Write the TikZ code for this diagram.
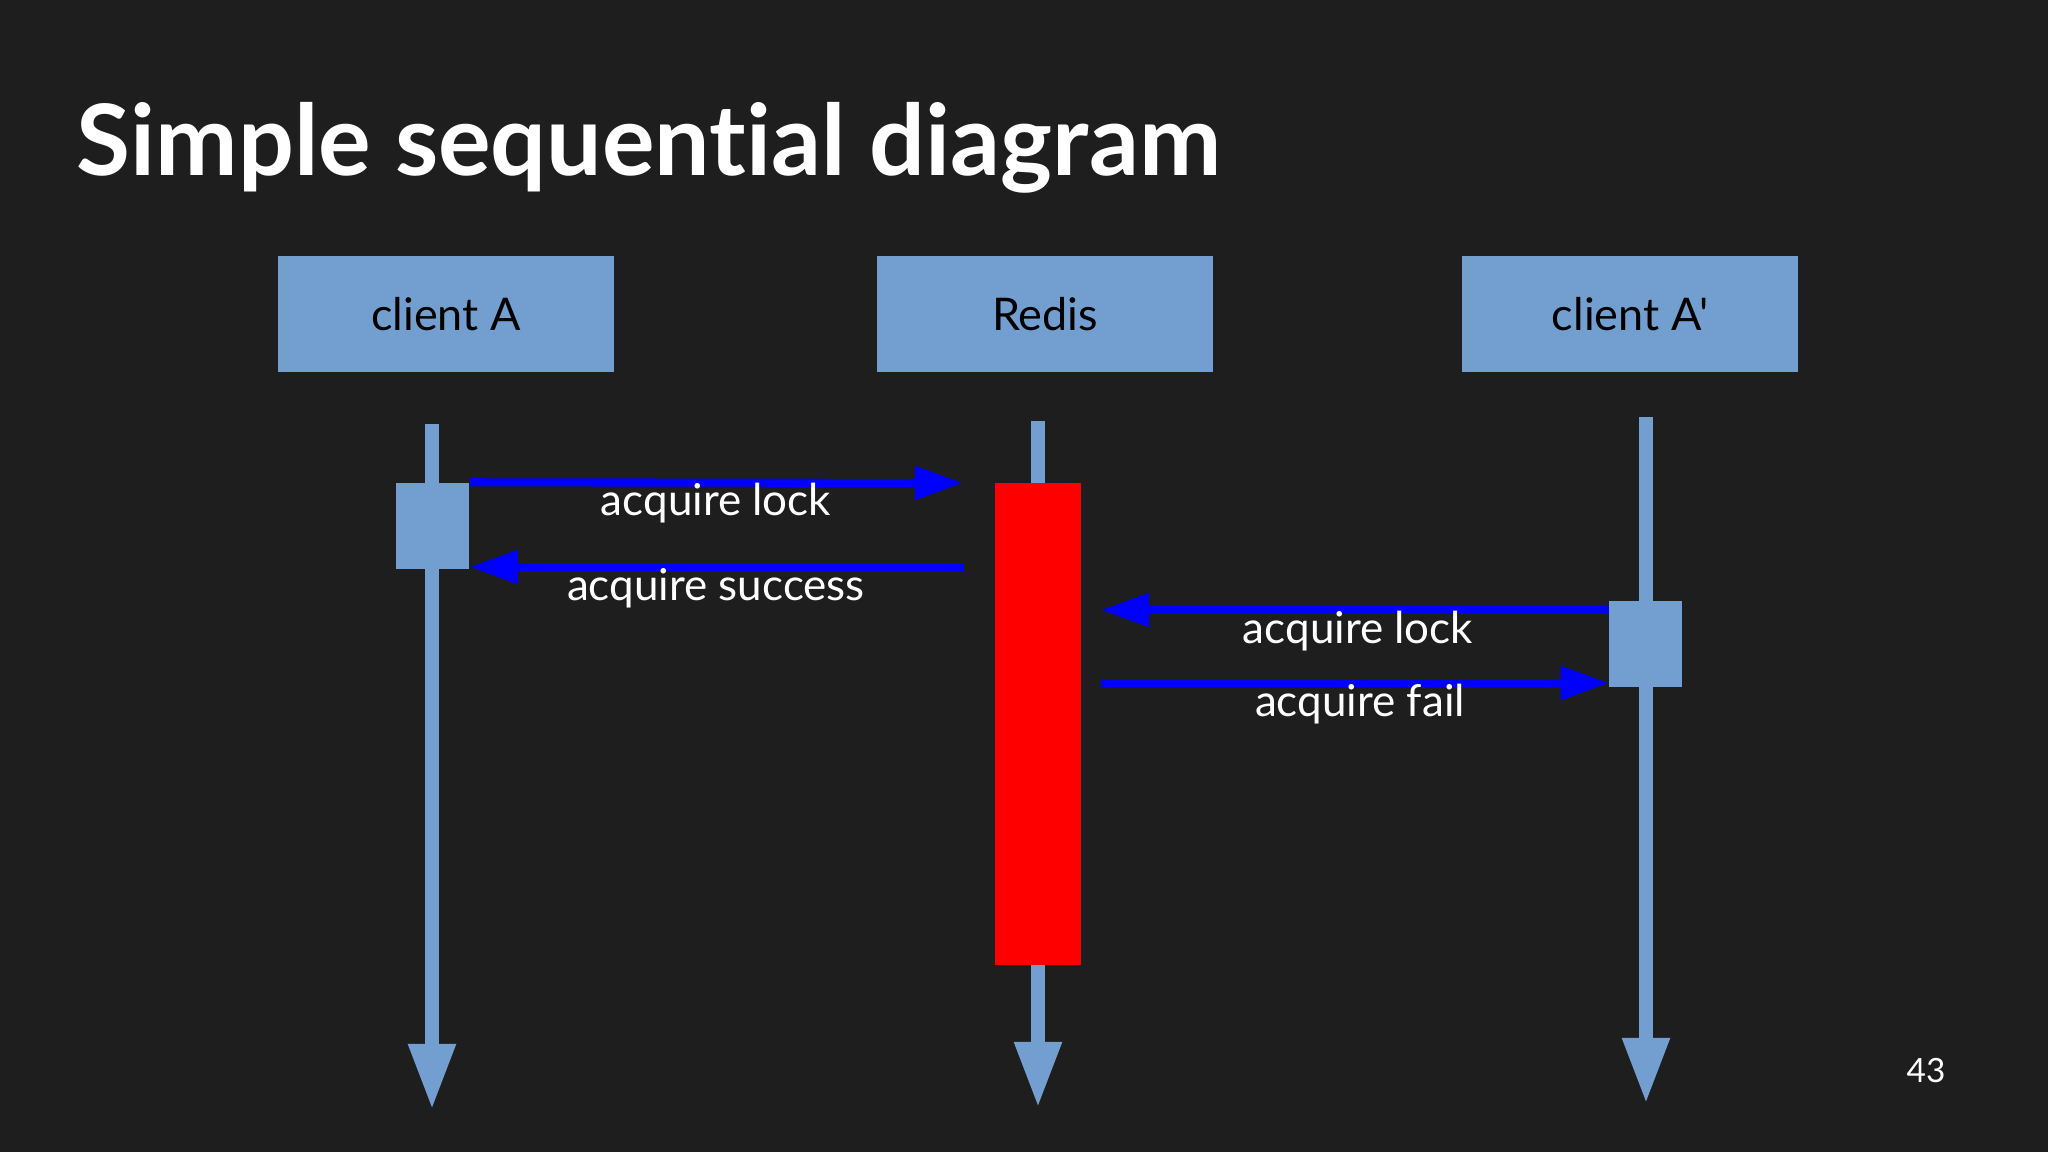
\documentclass[tikz,border=0pt]{standalone}
\usepackage{fontspec}
\newfontfamily\lato{Lato}[Ligatures=NoCommon]
\usetikzlibrary{arrows.meta}
\definecolor{bg}{RGB}{30,30,31}
\definecolor{lifeblue}{RGB}{114,159,207}
\definecolor{msgblue}{RGB}{0,0,255}
\definecolor{actred}{RGB}{255,0,0}
\begin{document}
\begin{tikzpicture}[x=0.01cm,y=-0.01cm,
  actor/.style={fill=lifeblue,draw=none,minimum width=3.36cm,minimum height=1.16cm,inner sep=0pt,font=\lato\fontsize{12.8}{15}\selectfont,text=black},
  life/.style={draw=lifeblue,line width=4pt,-{Triangle[length=0.66cm,width=0.44cm]}},
  actbox/.style={fill=lifeblue,draw=none,inner sep=0pt,minimum width=0.73cm,minimum height=0.86cm},
  msg/.style={draw=msgblue,line width=2.3pt,-{Triangle[length=0.48cm,width=0.32cm]}},
  lbl/.style={text=white,font=\lato\fontsize{12.5}{15}\selectfont,inner sep=0pt}]
\fill[bg] (0,0) rectangle (2048,1152);
\useasboundingbox (0,0) rectangle (2048,1152);
% title
\node[anchor=base west,text=white,inner sep=0pt,font=\lato\fontsize{28}{32}\bfseries\selectfont] (title) at (76,176) {Simple sequential diagram};
% actors
\node[actor] (clientA) at (446,314) {client A};
\node[actor] (redis) at (1045,314) {Redis};
\node[actor] (clientB) at (1630,314) {client A'};
% lifelines
\coordinate (aTop) at (432,424);
\coordinate (aBot) at (432,1110);
\coordinate (rTop) at (1038,421);
\coordinate (rBot) at (1038,1108);
\coordinate (bTop) at (1646,417);
\coordinate (bBot) at (1646,1104);
\draw[life] (aTop) -- (aBot);
\draw[life] (rTop) -- (rBot);
\draw[life] (bTop) -- (bBot);
% activations
\node[actbox] (actA) at (432.5,526) {};
\node[fill=actred,draw=none,inner sep=0pt,minimum width=0.86cm,minimum height=4.82cm] (actR) at (1038,724) {};
\node[actbox] (actB) at (1645.5,644) {};
% messages
\coordinate (m1end) at (963,483);
\coordinate (m2start) at (964,567);
\coordinate (m3start) at (1609,610);
\coordinate (m3end) at (1101,610);
\coordinate (m4start) at (1101,683);
\coordinate (m4end) at (1609,683);
\draw[msg] (actA.north east) -- (m1end);
\draw[msg] (m2start) -- (actA.east |- m2start);
\draw[msg] (m3start) -- (m3end);
\draw[msg] (m4start) -- (m4end);
% labels
\node[lbl] (l1) at (716,503) {acquire lock};
\node[lbl] (l2) at (716,588) {acquire success};
\node[lbl] (l3) at (1358,631) {acquire lock};
\node[lbl] (l4) at (1360,704) {acquire fail};
% page number
\node[text=white,font=\lato\fontsize{9.5}{11}\selectfont,inner sep=0pt] (page) at (1926,1071) {43};
\end{tikzpicture}
\end{document}
